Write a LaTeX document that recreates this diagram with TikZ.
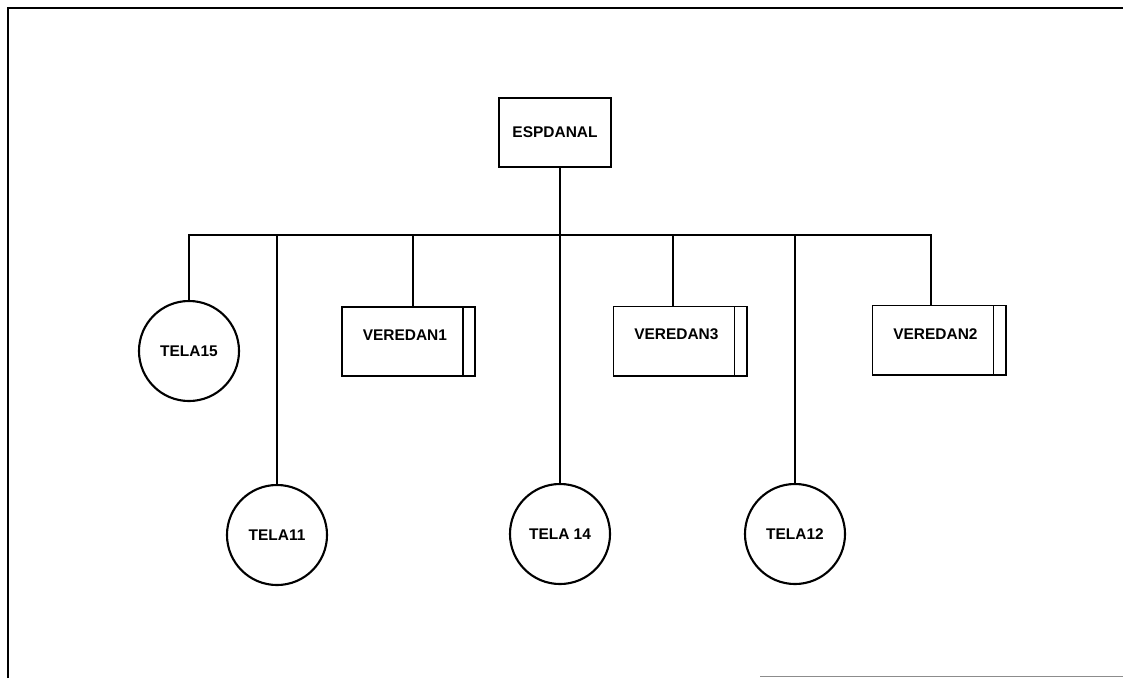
\documentclass[tikz,border=0pt]{standalone}
\usepackage{fontspec}
\setmainfont{Liberation Sans}
\usepackage{tikz}
\usetikzlibrary{calc}
\tikzset{
  entbox/.style={draw,line width=1.4pt,minimum width=2.8cm,minimum height=1.725cm,inner sep=0pt,font=\fontsize{11}{13}\selectfont\bfseries},
  telacirc/.style={circle,draw,line width=1.5pt,minimum size=2.5cm,inner sep=0pt,font=\fontsize{11}{13}\selectfont\bfseries},
  veredabox/.style={draw,line width=1.4pt,minimum width=3.325cm,minimum height=1.725cm,inner sep=0pt,
    path picture={\draw[line width=1pt]([xshift=-0.3cm]path picture bounding box.north east)--([xshift=-0.3cm]path picture bounding box.south east);}},
  veredatxt/.style={font=\fontsize{11}{13}\selectfont\bfseries,xshift=-0.09cm,yshift=0.16cm}
}
\begin{document}
\begin{tikzpicture}[x=0.025cm,y=-0.025cm]
              \useasboundingbox (0,0) rectangle (1123,678);
              % page frame
              \draw[line width=1.3pt](8,678)--(8,8)--(1123,8);
              \draw[black!45,line width=0.6pt](760,676)--(1123,676);
              % top node and the three boxes
              \node[entbox](esp)at(555,132.5){ESPDANAL};
              \node[veredabox,label={[veredatxt,name=v1t]center:VEREDAN1}](v1)at(408.5,341.5){};
              \node[veredabox,label={[veredatxt,name=v3t]center:VEREDAN3}](v3)at(680,341){};
              \node[veredabox,label={[veredatxt,name=v2t]center:VEREDAN2}](v2)at(939,340){};
              % circles
              \node[telacirc](t15)at(189,351){TELA15};
              \node[telacirc](t11)at(277,535){TELA11};
              \node[telacirc](t14)at(560,534){TELA 14};
              \node[telacirc](t12)at(795,534){TELA12};
              % bus line
              \coordinate(bus)at(0,235);
              \draw[line width=1.1pt](esp.south -| t14)--(t14.north);
              \draw[line width=1.1pt](t15.north)--(t15 |- bus)--([xshift=-0.2cm]v2.north |- bus)--([xshift=-0.2cm]v2.north);
              \foreach \n/\dx in {t11/0,v1/0.11,v3/-0.18,t12/0}
                \draw[line width=1.1pt]([xshift=\dx cm]\n.north)--([xshift=\dx cm]\n.north |- bus);
            \end{tikzpicture}
\end{document}
